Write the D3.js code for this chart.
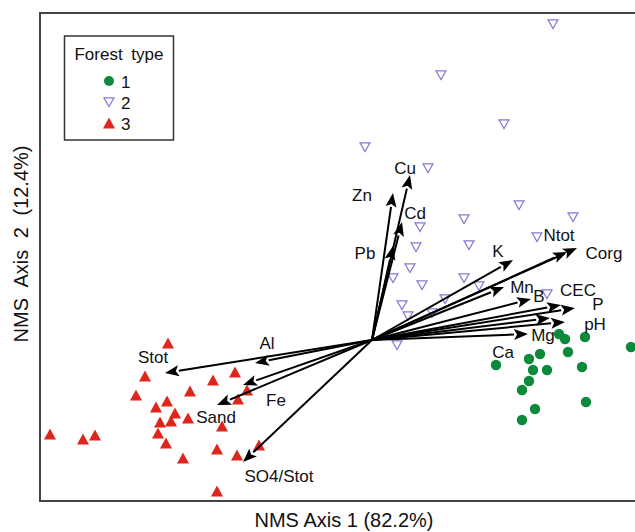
<!DOCTYPE html>
<html>
<head>
<meta charset="utf-8">
<script src="https://cdn.jsdelivr.net/npm/d3@7"></script>
<style>
  body { margin: 0; background: #fff; }
  text { font-family: "Liberation Sans", Arial, sans-serif; fill: #111; }
</style>
</head>
<body>
<div id="nms-plot"></div>
<script>
// site scores by forest type [axis1, axis2]
const type1 = [
  [0.935, 0.03], [0.965, 0.005], [1.065, 0.015], [1.295, -0.035], [0.62, -0.125],
  [0.785, -0.095], [0.84, -0.07], [0.98, -0.06], [0.805, -0.15], [0.875, -0.15],
  [1.05, -0.135], [0.785, -0.205], [0.75, -0.25], [1.07, -0.31], [0.815, -0.345],
  [0.75, -0.40]
];
const type2 = [
  [0.905, 1.58], [0.345, 1.325], [0.66, 1.08], [-0.035, 0.965], [0.28, 0.86],
  [0.735, 0.675], [1.005, 0.615], [0.46, 0.605], [0.24, 0.565], [0.485, 0.475],
  [0.825, 0.515], [0.22, 0.465], [0.19, 0.36], [0.105, 0.31], [0.25, 0.275],
  [0.46, 0.31], [0.535, 0.27], [0.875, 0.23], [0.15, 0.175], [0.18, 0.12],
  [0.365, 0.205], [0.30, 0.135], [0.125, -0.025]
];
const type3 = [
  [-1.02, -0.015], [-1.135, -0.18], [-1.18, -0.275], [-1.08, -0.335], [-1.025, -0.305],
  [-0.91, -0.255], [-0.795, -0.20], [-0.685, -0.16], [-0.625, -0.25], [-0.67, -0.295],
  [-0.985, -0.365], [-1.06, -0.41], [-1.005, -0.405], [-0.92, -0.39], [-0.75, -0.43],
  [-1.61, -0.47], [-1.445, -0.495], [-1.385, -0.475], [-1.07, -0.465], [-1.03, -0.515],
  [-0.945, -0.59], [-0.775, -0.545], [-0.675, -0.575], [-0.565, -0.525], [-0.775, -0.755]
];

// environmental vectors: name, tip x, tip y
const vectors = [
  ['Cu', 0.19, 0.825], ['Zn', 0.105, 0.735], ['Cd', 0.15, 0.59], ['Pb', 0.105, 0.47],
  ['K', 0.705, 0.40], ['Ntot', 0.975, 0.44], ['Corg', 1.025, 0.46], ['Mn', 0.66, 0.265],
  ['B', 0.795, 0.205], ['CEC', 0.945, 0.175], ['P', 1.015, 0.16], ['pH', 0.965, 0.09],
  ['Ca', 0.89, 0.11], ['Mg', 0.78, 0.03],
  ['Stot', -1.035, -0.165], ['Al', -0.585, -0.115], ['Fe', -0.645, -0.225],
  ['Sand', -0.775, -0.325], ['SO4/Stot', -0.645, -0.61]
];
// where each vector label sits
const vectorLabels = {
  'Cu': [0.165, 0.86], 'Zn': [-0.05, 0.725], 'Cd': [0.215, 0.635], 'Pb': [-0.035, 0.435],
  'K': [0.63, 0.445], 'Ntot': [0.935, 0.525], 'Corg': [1.16, 0.435], 'Mn': [0.75, 0.265],
  'B': [0.835, 0.22], 'CEC': [1.03, 0.25], 'P': [1.13, 0.18], 'pH': [1.115, 0.08],
  'Mg': [0.855, 0.025], 'Ca': [0.655, -0.06], 'Al': [-0.525, -0.015], 'Stot': [-1.095, -0.085],
  'Fe': [-0.48, -0.30], 'Sand': [-0.78, -0.385], 'SO4/Stot': [-0.465, -0.68]
};

const legendItems = ['1', '2', '3'];

const width = 635, height = 532;
const plot = { left: 40, top: 13, right: 635, bottom: 501 };

const svg = d3.select('#nms-plot').append('svg')
  .attr('width', width)
  .attr('height', height);

const x = d3.scaleLinear().domain([-1.66, 1.315]).range([plot.left, plot.right]);
const y = d3.scaleLinear().domain([-0.805, 1.635]).range([plot.bottom, plot.top]);

// frame (right side runs off the image)
svg.append('path')
  .attr('d', `M${plot.right + 10},${plot.top}H${plot.left}V${plot.bottom}H${plot.right + 10}`)
  .attr('fill', 'none')
  .attr('stroke', '#444')
  .attr('stroke-width', 2);

const green = '#0b8a3b', purple = '#8678d6', red = '#e0261c';

const downTri = s => `M${-s / 2},${-s * 0.42}L${s / 2},${-s * 0.42}L0,${s * 0.45}Z`;
const upTri = s => `M${-s / 2},${s * 0.45}L${s / 2},${s * 0.45}L0,${-s * 0.45}Z`;

// points
svg.append('g').selectAll('path')
  .data(type2).enter().append('path')
  .attr('transform', d => `translate(${x(d[0])},${y(d[1])})`)
  .attr('d', downTri(10))
  .attr('fill', 'none')
  .attr('stroke', purple)
  .attr('stroke-width', 1.2);

svg.append('g').selectAll('circle')
  .data(type1).enter().append('circle')
  .attr('cx', d => x(d[0]))
  .attr('cy', d => y(d[1]))
  .attr('r', 5.2)
  .attr('fill', green);

svg.append('g').selectAll('path')
  .data(type3).enter().append('path')
  .attr('transform', d => `translate(${x(d[0])},${y(d[1])})`)
  .attr('d', upTri(12))
  .attr('fill', red);

// vectors
const vg = svg.append('g');
const ox = x(0), oy = y(0);
vectors.forEach(([name, vx, vy]) => {
  const tx = x(vx), ty = y(vy);
  const ang = Math.atan2(ty - oy, tx - ox);
  const headLen = 14, headW = 5.5;
  const bx = tx - headLen * Math.cos(ang), by = ty - headLen * Math.sin(ang);
  vg.append('line')
    .attr('x1', ox).attr('y1', oy)
    .attr('x2', bx).attr('y2', by)
    .attr('stroke', '#000')
    .attr('stroke-width', 2);
  const px = -Math.sin(ang) * headW, py = Math.cos(ang) * headW;
  vg.append('path')
    .attr('d', `M${tx},${ty}L${bx + px},${by + py}L${bx + 3 * Math.cos(ang)},${by + 3 * Math.sin(ang)}L${bx - px},${by - py}Z`)
    .attr('fill', '#000');
});

vg.selectAll('text.vlab')
  .data(vectors).enter().append('text')
  .attr('class', 'vlab')
  .attr('x', d => x(vectorLabels[d[0]][0]))
  .attr('y', d => y(vectorLabels[d[0]][1]))
  .attr('dy', '0.36em')
  .attr('text-anchor', 'middle')
  .style('font-size', '17px')
  .text(d => d[0]);

// legend
const lg = svg.append('g');
lg.append('rect')
  .attr('x', 64.5).attr('y', 36)
  .attr('width', 109).attr('height', 104)
  .attr('fill', '#fff')
  .attr('stroke', '#333')
  .attr('stroke-width', 1.5);
lg.append('text')
  .attr('x', 119).attr('y', 60)
  .attr('text-anchor', 'middle')
  .style('font-size', '17px')
  .style('word-spacing', '4px')
  .text('Forest type');

const legendRow = d3.scalePoint().domain(legendItems).range([81, 123]);
legendItems.forEach((k, i) => {
  const cy = legendRow(k);
  if (i === 0) {
    lg.append('circle').attr('cx', 109).attr('cy', cy).attr('r', 5).attr('fill', green);
  } else if (i === 1) {
    lg.append('path').attr('transform', `translate(109,${cy})`).attr('d', downTri(10))
      .attr('fill', 'none').attr('stroke', purple).attr('stroke-width', 1.2);
  } else {
    lg.append('path').attr('transform', `translate(109,${cy})`).attr('d', upTri(12))
      .attr('fill', red);
  }
  lg.append('text')
    .attr('x', 121).attr('y', cy + 6.5)
    .style('font-size', '17px')
    .text(k);
});

// axis titles
svg.append('text')
  .attr('x', 344).attr('y', 527)
  .attr('text-anchor', 'middle')
  .style('font-size', '20px')
  .text('NMS Axis 1 (82.2%)');

svg.append('text')
  .attr('transform', 'translate(28,244) rotate(-90)')
  .attr('text-anchor', 'middle')
  .style('font-size', '20px')
  .style('word-spacing', '6px')
  .text('NMS Axis 2 (12.4%)');
</script>
</body>
</html>
